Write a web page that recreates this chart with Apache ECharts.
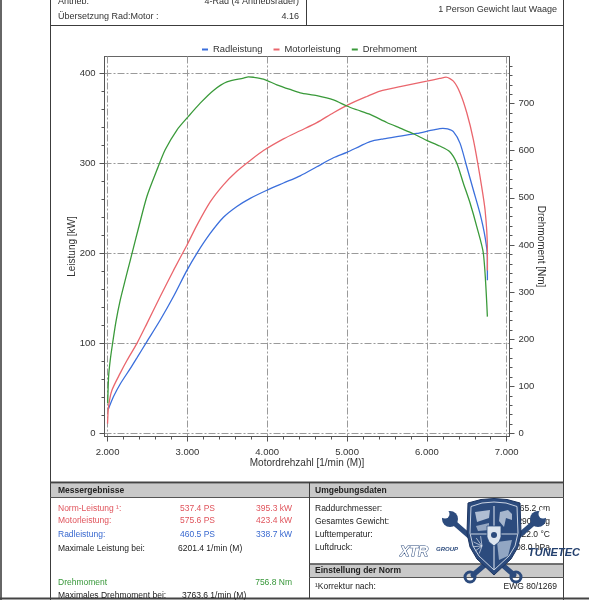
<!DOCTYPE html>
<html lang="de">
<head>
<meta charset="UTF-8">
<title>Leistungsmessung</title>
<script src="https://cdn.jsdelivr.net/npm/echarts@6/dist/echarts.min.js"></script>
<style>
  html, body { margin: 0; padding: 0; background: #fff; }
  #chart { width: 589px; height: 600px; }
</style>
</head>
<body>
<div id="chart"></div>
<script>
// Werte
const seriesNames = ['Radleistung', 'Motorleistung', 'Drehmoment'];

const radRpm = [2010, 2075, 2159, 2284, 2368, 2493, 2660, 2826, 2994, 3119, 3286, 3452, 3620, 3787, 3996, 4204, 4413, 4622, 4830, 4997, 5164, 5289, 5456, 5665, 5874, 6082, 6201, 6260, 6332, 6416, 6500, 6583, 6666, 6729, 6758, 6758];
const radKw = [27, 41, 55, 72, 84, 102, 126, 152, 181, 200, 222, 240, 252, 261, 270, 278, 286, 296, 306, 312, 319, 324, 327, 330, 333, 337, 338.7, 338, 335, 322, 296, 270, 244, 218, 196, 170];

const motorRpm = [2000, 2013, 2055, 2159, 2243, 2368, 2493, 2660, 2826, 2994, 3119, 3286, 3452, 3620, 3787, 3953, 4204, 4413, 4622, 4830, 5017, 5248, 5414, 5665, 5999, 6161, 6240, 6332, 6416, 6500, 6583, 6666, 6729, 6758, 6758];
const motorKw = [11, 30, 48, 67, 81, 100, 122, 152, 181, 209, 231, 257, 276, 291, 303, 314, 327, 336, 345, 356, 365, 374, 380, 385, 391, 394, 395.5, 391, 378, 356, 326, 285, 248, 204, 181];

const torqueRpm = [2002, 2013, 2034, 2063, 2105, 2159, 2222, 2284, 2326, 2388, 2493, 2618, 2722, 2869, 3014, 3161, 3327, 3495, 3703, 3764, 3828, 3953, 4121, 4287, 4413, 4622, 4830, 4997, 5122, 5289, 5498, 5665, 5831, 5999, 6161, 6287, 6374, 6457, 6541, 6625, 6708, 6758];
const torqueNm = [64, 120, 156, 191, 237, 283, 326, 367, 395, 436, 503, 559, 602, 644, 673, 701, 728, 746, 754, 756.8, 756, 752, 740, 730, 723, 717, 708, 695, 687, 677, 660, 648, 636, 622, 610, 598, 574, 531, 489, 439, 382, 248];

const rpmTicks = [2000, 3000, 4000, 5000, 6000, 7000];
const kwTicks = [0, 100, 200, 300, 400];
const nmTicks = [0, 100, 200, 300, 400, 500, 600, 700];

// Texte der Kopf- und Fusszeilen
const headLeft = [['Antrieb:', '4-Rad (4 Antriebsräder)'], ['Übersetzung Rad:Motor :', '4.16']];
const headRight = '1 Person Gewicht laut Waage';
const messRows = [
  ['Norm-Leistung ¹:', '537.4 PS', '395.3 kW'],
  ['Motorleistung:', '575.6 PS', '423.4 kW'],
  ['Radleistung:', '460.5 PS', '338.7 kW'],
  ['Maximale Leistung bei:', '6201.4 1/min (M)', ''],
  ['Drehmoment', '', '756.8 Nm'],
  ['Maximales Drehmoment bei:', '3763.6 1/min (M)', '']
];
const umgebungRows = [
  ['Raddurchmesser:', '65.2 cm'],
  ['Gesamtes Gewicht:', '2290.0 kg'],
  ['Lufttemperatur:', '22.0 °C'],
  ['Luftdruck:', '1008.0 hPa']
];
const normRow = ['¹Korrektur nach:', 'EWG 80/1269'];

const colors = { rad: '#3b6fdc', motor: '#ea666d', torque: '#3a9a3a' };
const textColors = { red: '#e0545c', blue: '#3868cf', green: '#38983a', black: '#222' };
const FAMILY = '"Liberation Sans", Arial, sans-serif';
const font = (size, weight) => (weight || 'normal') + ' ' + size + 'px ' + FAMILY;

const zip = (xs, ys) => xs.map((x, i) => [x, ys[i]]);
// Zwischenstriche zwischen den Hauptticks
const minorOf = (major, step) => {
  const out = [];
  for (let i = 0; i < major.length - 1; i++) {
    for (let v = major[i] + step; v < major[i + 1] - 1e-6; v += step) out.push(v);
  }
  return out;
};

const X_MIN = 1962, X_MAX = 7035;
const KW_MIN = -3.3, KW_MAX = 418.4;
const NM_MIN = -6.4, NM_MAX = 800;

// ---- Rahmen, Tabellen, Logo ----
const g = [];
const frame = '#3c3c3c';
function line(x1, y1, x2, y2, color, w) {
  g.push({ type: 'line', silent: true, shape: { x1, y1, x2, y2 }, style: { stroke: color, lineWidth: w } });
}
function box(x, y, width, height, fill) {
  g.push({ type: 'rect', silent: true, shape: { x, y, width, height }, style: { fill } });
}
function poly(points, style) {
  g.push({ type: 'polygon', silent: true, shape: { points }, style });
}
function txt(x, y, text, fill, f, align) {
  g.push({ type: 'text', silent: true, x, y, style: { text, fill, font: f, align: align || 'left', verticalAlign: 'middle' } });
}

box(0, 0, 2, 600, '#666');
line(50.5, 0, 50.5, 600, frame, 1);
line(563.5, 0, 563.5, 600, frame, 1);
line(50, 25.5, 564, 25.5, frame, 1);
line(306.5, 0, 306.5, 25.5, frame, 1);

txt(58, 1.5, headLeft[0][0], '#333', font(9));
txt(299, 1.5, headLeft[0][1], '#333', font(9), 'right');
txt(58, 16.5, headLeft[1][0], '#333', font(9));
txt(299, 16.5, headLeft[1][1], '#333', font(9), 'right');
txt(557, 9.5, headRight, '#333', font(9), 'right');

// Fussbereich
box(51, 483.5, 512, 13.5, '#c9c9c9');
line(50, 482.5, 564, 482.5, '#444', 2);
line(50, 497.5, 564, 497.5, '#555', 1);
line(309.5, 482, 309.5, 598, frame, 1);
box(310, 564.5, 253, 12.5, '#c9c9c9');
line(309, 564, 564, 564, '#444', 1.5);
line(309, 577.5, 564, 577.5, '#555', 1);
line(0, 598.5, 589, 598.5, '#444', 2);

txt(58, 490.5, 'Messergebnisse', '#222', font(8.5, 'bold'));
txt(315, 490.5, 'Umgebungsdaten', '#222', font(8.5, 'bold'));
txt(315, 571, 'Einstellung der Norm', '#222', font(8.5, 'bold'));

const messY = [508.5, 521, 535, 549, 582.5, 595.5];
const messColor = [textColors.red, textColors.red, textColors.blue, textColors.black, textColors.green, textColors.black];
messRows.forEach((r, i) => {
  const c = messColor[i];
  txt(58, messY[i], r[0], c, font(8.5));
  if (r[1].indexOf('1/min') >= 0) {
    txt(i === 3 ? 178 : 182, messY[i], r[1], c, font(8.5));
  } else if (r[1]) {
    txt(215, messY[i], r[1], c, font(8.5), 'right');
  }
  if (r[2]) txt(292, messY[i], r[2], c, font(8.5), 'right');
});

const umgY = [509, 522, 535, 548];
umgebungRows.forEach((r, i) => {
  txt(315, umgY[i], r[0], '#222', font(8.5));
  txt(550, umgY[i], r[1], '#222', font(8.5), 'right');
});
txt(315, 587, normRow[0], '#222', font(8.5));
txt(557, 587, normRow[1], '#222', font(8.5), 'right');

// Logo (vereinfacht)
const navy = '#2c4b7d';
const pale = 'rgba(228,234,243,0.85)';
g.push({ type: 'line', silent: true, shape: { x1: 452, y1: 521, x2: 514, y2: 575 }, style: { stroke: navy, lineWidth: 5, lineCap: 'round' } });
g.push({ type: 'line', silent: true, shape: { x1: 536, y1: 521, x2: 473, y2: 575 }, style: { stroke: navy, lineWidth: 5, lineCap: 'round' } });
g.push({ type: 'circle', silent: true, shape: { cx: 450, cy: 519, r: 8 }, style: { fill: navy } });
g.push({ type: 'circle', silent: true, shape: { cx: 445, cy: 514, r: 4.5 }, style: { fill: '#fff' } });
g.push({ type: 'circle', silent: true, shape: { cx: 538, cy: 519, r: 8 }, style: { fill: navy } });
g.push({ type: 'circle', silent: true, shape: { cx: 543, cy: 514, r: 4.5 }, style: { fill: '#fff' } });
g.push({ type: 'circle', silent: true, shape: { cx: 470, cy: 577, r: 5 }, style: { fill: 'none', stroke: navy, lineWidth: 3 } });
g.push({ type: 'circle', silent: true, shape: { cx: 516, cy: 577, r: 5 }, style: { fill: 'none', stroke: navy, lineWidth: 3 } });
poly([[468, 503], [481, 499.5], [494, 498.5], [507, 499.5], [520, 503], [521, 533], [518, 547], [511, 559], [494, 575], [477, 559], [470, 547], [467, 533]],
  { fill: navy, stroke: '#1c3460', lineWidth: 1 });
poly([[471, 506.5], [482, 503], [494, 502], [506, 503], [517, 506.5], [518, 533], [515, 546], [509, 556], [494, 570], [479, 556], [473, 546], [470, 533]],
  { fill: 'none', stroke: pale, lineWidth: 1 });
line(494, 506, 494, 569, pale, 1.2);
line(471, 534, 517, 534, pale, 1.2);
poly([[475, 512], [490, 510], [489, 518], [477, 522]], { fill: 'rgba(220,228,240,0.75)' });
poly([[476, 526], [489, 523], [489, 530], [478, 531]], { fill: 'rgba(220,228,240,0.6)' });
poly([[500, 512], [508, 510], [512, 514], [512, 520], [506, 518], [504, 527], [499, 521]], { fill: 'rgba(220,228,240,0.7)' });
[0, 1, 2, 3, 4, 5].forEach(i => {
  const a = Math.PI * (0.6 + i * 0.17);
  line(482, 546, 482 + Math.cos(a) * 9, 546 + Math.sin(a) * 9 - 1, pale, 0.8);
});
poly([[497, 542], [512, 540], [508, 556], [499, 560]], { fill: 'rgba(190,205,225,0.7)' });
poly([[487, 526], [501, 526], [501, 537], [499, 542], [494, 546], [489, 542], [487, 537]], { fill: '#dde5ef', stroke: navy, lineWidth: 0.8 });
g.push({ type: 'circle', silent: true, shape: { cx: 494, cy: 535, r: 3 }, style: { fill: navy } });
g.push({ type: 'text', silent: true, x: 400, y: 552, style: { text: 'XTR', fill: '#fff', stroke: navy, lineWidth: 1, font: 'italic bold 14px ' + FAMILY, verticalAlign: 'middle' } });
g.push({ type: 'text', silent: true, x: 436, y: 549, style: { text: 'GROUP', fill: navy, font: 'italic bold 6px ' + FAMILY, verticalAlign: 'middle' } });
g.push({ type: 'text', silent: true, x: 528, y: 553, style: { text: 'TUNETEC', fill: '#24406e', font: 'italic bold 11px ' + FAMILY, verticalAlign: 'middle' } });

// ---- Diagramm ----
const axisColor = '#555';
const gridLine = { show: true, lineStyle: { color: '#9a9a9a', width: 1, type: [7, 2, 2, 2] } };
const labelStyle = { color: '#333', fontSize: 9.5, fontFamily: FAMILY };
const nameStyle = { color: '#333', fontSize: 10, fontFamily: FAMILY };

const chart = echarts.init(document.getElementById('chart'), null, { renderer: 'canvas' });
chart.setOption({
  backgroundColor: '#fff',
  animation: false,
  graphic: g,
  legend: {
    data: seriesNames,
    left: 197,
    top: 40,
    icon: 'rect',
    itemWidth: 6,
    itemHeight: 2,
    itemGap: 11,
    selectedMode: false,
    textStyle: { color: '#333', fontSize: 9.4, fontFamily: FAMILY }
  },
  grid: {
    left: 104.5,
    right: 79.5,
    top: 56.5,
    bottom: 163.5,
    show: true,
    borderColor: '#666',
    borderWidth: 1,
    outerBoundsMode: 'none'
  },
  xAxis: [
    {
      type: 'value', position: 'bottom', min: X_MIN, max: X_MAX,
      name: 'Motordrehzahl [1/min (M)]', nameLocation: 'middle', nameGap: 22, nameMoveOverlap: false, nameTextStyle: nameStyle,
      axisLine: { onZero: false, lineStyle: { color: axisColor } },
      axisTick: { customValues: rpmTicks, length: 5, lineStyle: { color: axisColor } },
      axisLabel: { customValues: rpmTicks, margin: 10.5, ...labelStyle, formatter: v => (v / 1000).toFixed(3) },
      splitLine: gridLine
    },
    {
      type: 'value', position: 'bottom', min: X_MIN, max: X_MAX,
      axisLine: { show: false, onZero: false },
      axisTick: { customValues: minorOf(rpmTicks, 200), length: 3, lineStyle: { color: axisColor } },
      axisLabel: { show: false },
      splitLine: { show: false }
    }
  ],
  yAxis: [
    {
      type: 'value', position: 'left', min: KW_MIN, max: KW_MAX,
      name: 'Leistung [kW]', nameLocation: 'middle', nameGap: 27, nameRotate: 90, nameMoveOverlap: false, nameTextStyle: nameStyle,
      axisLine: { show: true, onZero: false, lineStyle: { color: axisColor } },
      axisTick: { show: true, customValues: kwTicks, length: 5, lineStyle: { color: axisColor } },
      axisLabel: { customValues: kwTicks, margin: 9, ...labelStyle },
      splitLine: gridLine
    },
    {
      type: 'value', position: 'right', min: NM_MIN, max: NM_MAX,
      name: 'Drehmoment [Nm]', nameLocation: 'middle', nameGap: 26, nameRotate: -90, nameMoveOverlap: false, nameTextStyle: nameStyle,
      axisLine: { show: true, onZero: false, lineStyle: { color: axisColor } },
      axisTick: { show: true, customValues: nmTicks, length: 5, lineStyle: { color: axisColor } },
      axisLabel: { customValues: nmTicks, margin: 9, ...labelStyle },
      splitLine: { show: false }
    },
    {
      type: 'value', position: 'left', min: KW_MIN, max: KW_MAX,
      axisLine: { show: false, onZero: false },
      axisTick: { show: true, customValues: minorOf(kwTicks, 20), length: 3, lineStyle: { color: axisColor } },
      axisLabel: { show: false },
      splitLine: { show: false }
    },
    {
      type: 'value', position: 'right', min: NM_MIN, max: NM_MAX,
      axisLine: { show: false, onZero: false },
      axisTick: { show: true, customValues: minorOf(nmTicks, 20).concat([720, 740, 760, 780]), length: 3, lineStyle: { color: axisColor } },
      axisLabel: { show: false },
      splitLine: { show: false }
    }
  ],
  series: [
    {
      name: seriesNames[0], type: 'line', xAxisIndex: 0, yAxisIndex: 0,
      data: zip(radRpm, radKw), showSymbol: false, smooth: 0.25,
      lineStyle: { color: colors.rad, width: 1.3 }, itemStyle: { color: colors.rad }
    },
    {
      name: seriesNames[1], type: 'line', xAxisIndex: 0, yAxisIndex: 0,
      data: zip(motorRpm, motorKw), showSymbol: false, smooth: 0.25,
      lineStyle: { color: colors.motor, width: 1.3 }, itemStyle: { color: colors.motor }
    },
    {
      name: seriesNames[2], type: 'line', xAxisIndex: 0, yAxisIndex: 1,
      data: zip(torqueRpm, torqueNm), showSymbol: false, smooth: 0.25,
      lineStyle: { color: colors.torque, width: 1.3 }, itemStyle: { color: colors.torque }
    }
  ]
});
</script>
</body>
</html>
